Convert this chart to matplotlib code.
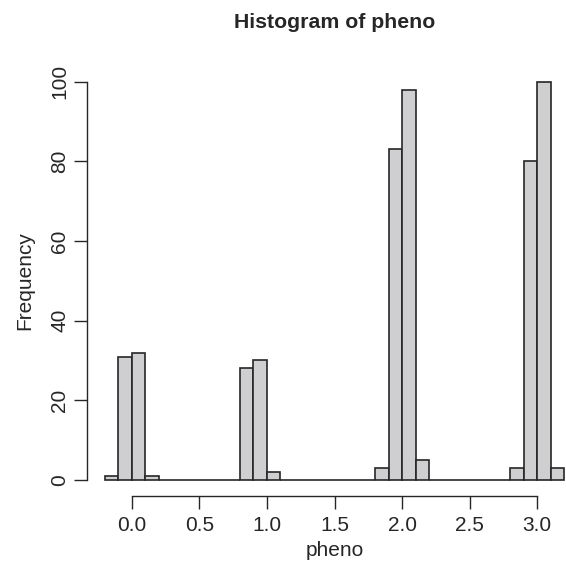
import matplotlib

matplotlib.use("Agg")
import matplotlib.pyplot as plt  # noqa: E402

plt.rcParams["font.family"] = ["Liberation Sans", "DejaVu Sans"]

# histogram of pheno: bin width 0.1, breaks from -0.2 to 3.2
bin_start = -0.2
bin_width = 0.1
counts = [
    1, 31, 32, 1,
    0, 0, 0, 0, 0, 0,
    28, 30, 2,
    0, 0, 0, 0, 0, 0, 0,
    3, 83, 98, 5,
    0, 0, 0, 0, 0, 0,
    3, 80, 100, 3,
]
x_ticks = [0.0, 0.5, 1.0, 1.5, 2.0, 2.5, 3.0]
y_ticks = [0, 20, 40, 60, 80, 100]

W, H = 566, 567
fig = plt.figure(figsize=(W / 100, H / 100), dpi=100)
ax = fig.add_axes([86.5 / W, 1 - 495.9 / H, 496 / W, (495.9 - 65.8) / H])

edges = [bin_start + i * bin_width for i in range(len(counts))]
ax.bar(edges, counts, width=bin_width, align="edge",
       color="#cfcfd1", edgecolor="#262626", linewidth=1.2)

ax.set_xlim(-0.336, 3.336)
ax.set_ylim(-4, 104)

for side in ("top", "right"):
    ax.spines[side].set_visible(False)
ax.spines["left"].set_bounds(0, 100)
ax.spines["bottom"].set_bounds(0, 3.0)
for side in ("left", "bottom"):
    ax.spines[side].set_linewidth(1.0)
    ax.spines[side].set_color("#262626")

ax.set_xticks(x_ticks)
ax.set_xticklabels([f"{v:.1f}" for v in x_ticks])
ax.set_yticks(y_ticks)
ax.set_yticklabels([str(v) for v in y_ticks], rotation=90, va="center")
ax.tick_params(axis="both", length=9.5, width=1.0, color="#262626",
               labelsize=15, labelcolor="#262626", direction="out")
ax.tick_params(axis="x", pad=5)
ax.tick_params(axis="y", pad=3)

ax.set_xlabel("pheno", fontsize=15, color="#262626", labelpad=4)
ax.set_ylabel("Frequency", fontsize=15, color="#262626", labelpad=11.5)
fig.text((86.5 + 582.5) / 2 / W, 1 - 28 / H, "Histogram of pheno",
         ha="center", va="baseline", fontsize=15.3, fontweight="bold",
         color="#262626")

fig.savefig("out.png", dpi=100)
plt.close(fig)
